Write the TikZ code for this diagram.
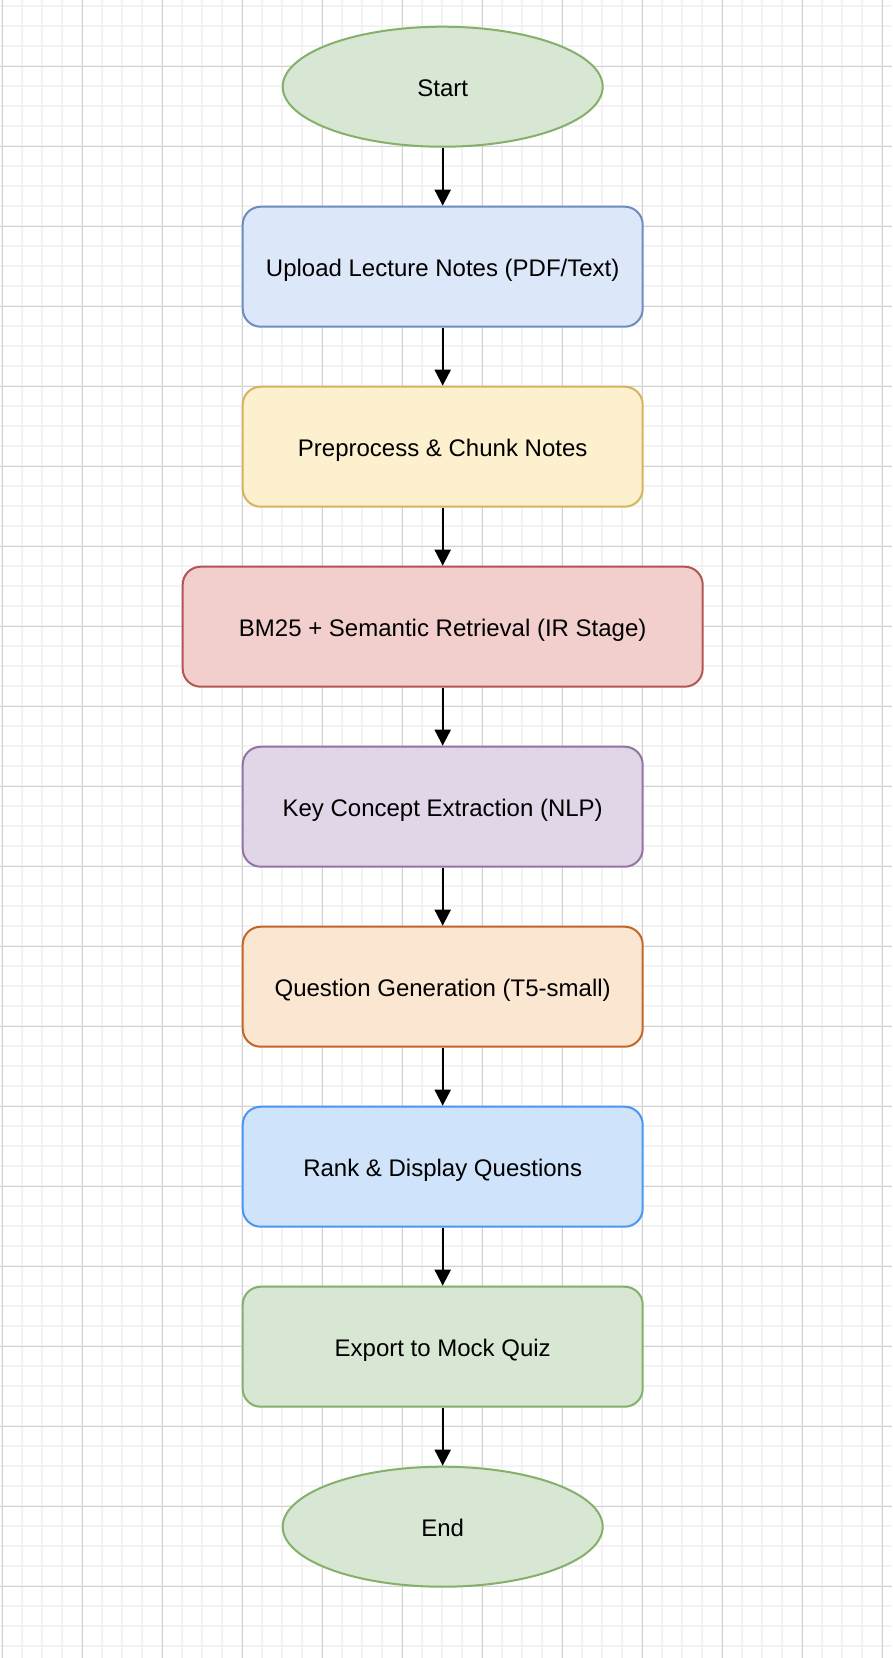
\documentclass[tikz,border=0pt]{standalone}
\usepackage{fontspec}
\setmainfont{Liberation Sans}
\usetikzlibrary{shapes.geometric,arrows.meta}
\definecolor{gfill}{HTML}{D8E7D4}
\definecolor{gdraw}{HTML}{85B06A}
\definecolor{bfill}{HTML}{DCE7F9}
\definecolor{bdraw}{HTML}{6E8DBE}
\definecolor{yfill}{HTML}{FCF0CF}
\definecolor{ydraw}{HTML}{D4B55E}
\definecolor{rfill}{HTML}{F2CFCD}
\definecolor{rdraw}{HTML}{B25752}
\definecolor{pfill}{HTML}{E0D6E7}
\definecolor{pdraw}{HTML}{9474A4}
\definecolor{ofill}{HTML}{FAE6D1}
\definecolor{odraw}{HTML}{C2672A}
\definecolor{lbfill}{HTML}{CFE3FB}
\definecolor{lbdraw}{HTML}{4D95F0}
\definecolor{minorgrid}{HTML}{F3F3F3}
\definecolor{majorgrid}{HTML}{D2D2D2}
\begin{document}
\begin{tikzpicture}[x=1pt,y=-1pt,
  lbl/.style={font=\fontsize{24}{29}\selectfont, text height=19pt, text depth=0pt},
  proc/.style={draw, rounded corners=18pt, minimum width=400pt, minimum height=120pt,
    line width=2pt, inner sep=0pt, lbl},
  term/.style={ellipse, draw, minimum width=320pt, minimum height=120pt,
    line width=2pt, inner sep=0pt, lbl, fill=gfill, draw=gdraw},
  flow/.style={-{Triangle[width=16pt,length=16pt]}, line width=2pt, black},
  minorline/.style={draw=minorgrid, line width=1.8pt},
  majorline/.style={draw=majorgrid, line width=1pt}]
\useasboundingbox (0,0) rectangle (892,1658);
\fill[white] (0,0) rectangle (892,1658);
% grid
\foreach \x in {2,22,...,892} \draw[minorline] (\x,0) -- (\x,1658);
\foreach \y in {6,26,...,1658} \draw[minorline] (0,\y) -- (892,\y);
\foreach \x in {2,82,...,892} \draw[majorline] (\x,0) -- (\x,1658);
\foreach \y in {66,146,...,1658} \draw[majorline] (0,\y) -- (892,\y);
% nodes
\node[term] (start) at (442.7,86.7) {Start};
\node[proc, fill=bfill, draw=bdraw] (upload) at (442.7,266.7) {Upload Lecture Notes (PDF/Text)};
\node[proc, fill=yfill, draw=ydraw] (prep) at (442.7,446.7) {Preprocess \& Chunk Notes};
\node[proc, fill=rfill, draw=rdraw, minimum width=520pt] (bm25) at (442.7,626.7) {BM25 + Semantic Retrieval (IR Stage)};
\node[proc, fill=pfill, draw=pdraw] (key) at (442.7,806.7) {Key Concept Extraction (NLP)};
\node[proc, fill=ofill, draw=odraw] (qgen) at (442.7,986.7) {Question Generation (T5-small)};
\node[proc, fill=lbfill, draw=lbdraw] (rank) at (442.7,1166.7) {Rank \& Display Questions};
\node[proc, fill=gfill, draw=gdraw] (export) at (442.7,1346.7) {Export to Mock Quiz};
\node[term] (end) at (442.7,1526.7) {End};
% connectors
\draw[flow] (start) -- (upload);
\draw[flow] (upload) -- (prep);
\draw[flow] (prep) -- (bm25);
\draw[flow] (bm25) -- (key);
\draw[flow] (key) -- (qgen);
\draw[flow] (qgen) -- (rank);
\draw[flow] (rank) -- (export);
\draw[flow] (export) -- (end);
\end{tikzpicture}
\end{document}
